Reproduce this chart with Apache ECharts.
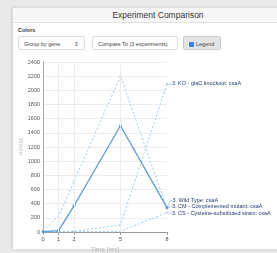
<!DOCTYPE html>
<html>
<head>
<meta charset="utf-8">
<script src="https://cdn.jsdelivr.net/npm/echarts@6/dist/echarts.min.js"></script>
<style>
  body { margin: 0; width: 277px; height: 253px; background: #e9e9e9; font-family: "Liberation Sans", Arial, sans-serif; overflow: hidden; position: relative; }
  .panel { position: absolute; left: 13px; top: 8px; width: 280px; height: 241px; background: #fff; box-shadow: -1px 0 3px rgba(0,0,0,0.12); }
  .head { height: 14px; line-height: 14px; background: #f7f7f7; border-bottom: 1px solid #e2e2e2; text-align: center; font-size: 8.5px; color: #333; padding-left: 10px; }
  .colors { position: absolute; left: 5px; top: 19px; font-size: 5.5px; font-weight: bold; color: #333; }
  .ctl { position: absolute; top: 28px; height: 14px; line-height: 14px; font-size: 5.5px; color: #444; border: 1px solid #ddd; border-radius: 2px; background: #fff; box-sizing: border-box; padding-left: 5px; }
  .sel { left: 5px; width: 67px; }
  .sel span { position: absolute; right: 5px; color: #666; }
  .cmp { left: 79px; width: 86px; }
  .leg { left: 170px; width: 38px; background: #e4e4e4; border-color: #ccc; }
  .leg i { display: inline-block; width: 5px; height: 5px; background: #3b86d6; border-radius: 1px; vertical-align: -1px; margin-right: 2px; }
  #chart { position: absolute; left: 13px; top: 55px; width: 264px; height: 198px; }
</style>
</head>
<body>
<div class="panel">
  <div class="head">Experiment Comparison</div>
  <div class="colors">Colors</div>
  <div class="ctl sel">Group by gene<span>&#8661;</span></div>
  <div class="ctl cmp">Compare To (3 experiments)</div>
  <div class="ctl leg"><i></i>Legend</div>
</div>
<div id="chart"></div>
<script>
const times = [0, 1, 2, 5, 8];
const tickValues = [0, 1, 2, 5, 8];
const seriesNames = [
  "3. Wild Type: csaA",
  "3. KO - glaC knockout: csaA",
  "3. CM - Complemented mutant: csaA",
  "3. CS - Cysteine-substituted strain: csaA"
];
const wildType = [5, 20, 370, 1500, 345];
const knockout = [2, 5, 8, 100, 2090];
const complemented = [20, 220, 715, 2200, 330];
const cysteine = [2, 2, 3, 10, 275];
// vertical nudge of the end labels so they do not sit on each other
const labelShift = [-7, 0, -2.5, 1];

const chart = echarts.init(document.getElementById("chart"));

function makeSeries(name, values, solid, dy) {
  const data = values.map((v, i) => {
    const item = { value: [times[i], v] };
    if (i === values.length - 1) {
      item.label = {
        show: true,
        position: "right",
        distance: 4,
        formatter: name,
        fontSize: 5.5,
        color: "#1d3c6e"
      };
    }
    return item;
  });
  return {
    name: name,
    type: "line",
    data: data,
    symbol: "circle",
    symbolSize: solid ? 3 : 2,
    itemStyle: { color: solid ? "#5b9bd5" : "#9ec8ee" },
    lineStyle: {
      color: solid ? "#5b9bd5" : "#9ec8ee",
      width: solid ? 1.3 : 1,
      type: solid ? "solid" : [2, 2]
    },
    labelLayout: { dy: dy },
    labelLine: { show: true, length2: 2, lineStyle: { color: "#9ec8ee", width: 0.8 } },
    z: solid ? 3 : 2
  };
}

const series = [
  makeSeries(seriesNames[0], wildType, true, labelShift[0]),
  makeSeries(seriesNames[1], knockout, false, labelShift[1]),
  makeSeries(seriesNames[2], complemented, false, labelShift[2]),
  makeSeries(seriesNames[3], cysteine, false, labelShift[3])
];
// vertical grid lines at the sample times
series[0].markLine = {
  silent: true,
  symbol: "none",
  label: { show: false },
  lineStyle: { color: "#ececec", type: "solid", width: 1 },
  data: tickValues.slice(1, 4).map(t => ({ xAxis: t }))
};

chart.setOption({
  animation: false,
  textStyle: { fontFamily: "Liberation Sans, Arial, sans-serif" },
  grid: { left: 30, right: 110, top: 7, bottom: 21, outerBoundsMode: "none" },
  xAxis: {
    type: "value",
    min: 0,
    max: 8,
    interval: 1,
    name: "Time [hrs]",
    nameLocation: "middle",
    nameGap: 11,
    nameTextStyle: { color: "#bbb", fontSize: 6.5 },
    axisLine: { lineStyle: { color: "#999", width: 1.2 } },
    axisTick: { show: true, customValues: tickValues, length: 3, lineStyle: { color: "#999" } },
    axisLabel: { customValues: tickValues, fontSize: 5.5, color: "#444", margin: 4 },
    splitLine: { show: false }
  },
  yAxis: {
    type: "value",
    min: 0,
    max: 2400,
    interval: 200,
    name: "RPKM",
    nameLocation: "middle",
    nameGap: 18,
    nameTextStyle: { color: "#c4c4c4", fontSize: 6 },
    axisLine: { show: true, lineStyle: { color: "#aaa" } },
    axisTick: { show: false },
    axisLabel: { fontSize: 5.5, color: "#555", margin: 3, formatter: v => String(v) },
    splitLine: { lineStyle: { color: "#ececec" } }
  },
  series: series
});
</script>
</body>
</html>
